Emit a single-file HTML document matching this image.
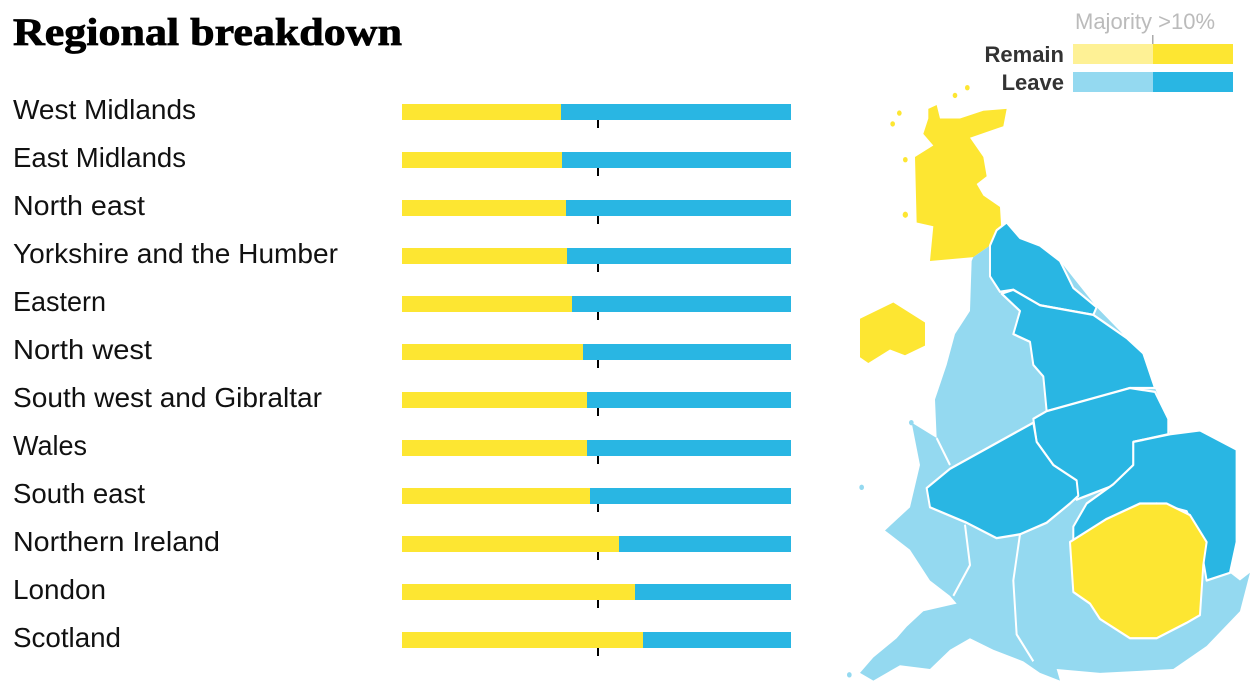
<!DOCTYPE html>
<html><head><meta charset="utf-8"><style>
html,body{margin:0;padding:0;background:#fff;}
svg{display:block;}
text{font-family:"Liberation Sans",sans-serif;}
</style></head><body>
<svg width="1260" height="683" xmlns="http://www.w3.org/2000/svg">
<text x="13" y="45" font-weight="bold" font-size="39" textLength="389" lengthAdjust="spacingAndGlyphs" fill="#000" stroke="#000" stroke-width="0.8" style="font-family:'Liberation Serif',serif">Regional breakdown</text>
<g font-size="28" fill="#111" lengthAdjust="spacingAndGlyphs">
<text x="13" y="119" textLength="183" lengthAdjust="spacingAndGlyphs">West Midlands</text>
<text x="13" y="167" textLength="173" lengthAdjust="spacingAndGlyphs">East Midlands</text>
<text x="13" y="215" textLength="132" lengthAdjust="spacingAndGlyphs">North east</text>
<text x="13" y="263" textLength="325" lengthAdjust="spacingAndGlyphs">Yorkshire and the Humber</text>
<text x="13" y="311" textLength="93" lengthAdjust="spacingAndGlyphs">Eastern</text>
<text x="13" y="359" textLength="139" lengthAdjust="spacingAndGlyphs">North west</text>
<text x="13" y="407" textLength="309" lengthAdjust="spacingAndGlyphs">South west and Gibraltar</text>
<text x="13" y="455" textLength="74" lengthAdjust="spacingAndGlyphs">Wales</text>
<text x="13" y="503" textLength="132" lengthAdjust="spacingAndGlyphs">South east</text>
<text x="13" y="551" textLength="207" lengthAdjust="spacingAndGlyphs">Northern Ireland</text>
<text x="13" y="599" textLength="93" lengthAdjust="spacingAndGlyphs">London</text>
<text x="13" y="647" textLength="108" lengthAdjust="spacingAndGlyphs">Scotland</text>
</g>
<g>
<rect x="402" y="104" width="389" height="16" fill="#29b6e3"/><rect x="402" y="104" width="159" height="16" fill="#fde632"/>
<rect x="402" y="152" width="389" height="16" fill="#29b6e3"/><rect x="402" y="152" width="160" height="16" fill="#fde632"/>
<rect x="402" y="200" width="389" height="16" fill="#29b6e3"/><rect x="402" y="200" width="164" height="16" fill="#fde632"/>
<rect x="402" y="248" width="389" height="16" fill="#29b6e3"/><rect x="402" y="248" width="165" height="16" fill="#fde632"/>
<rect x="402" y="296" width="389" height="16" fill="#29b6e3"/><rect x="402" y="296" width="170" height="16" fill="#fde632"/>
<rect x="402" y="344" width="389" height="16" fill="#29b6e3"/><rect x="402" y="344" width="181" height="16" fill="#fde632"/>
<rect x="402" y="392" width="389" height="16" fill="#29b6e3"/><rect x="402" y="392" width="185" height="16" fill="#fde632"/>
<rect x="402" y="440" width="389" height="16" fill="#29b6e3"/><rect x="402" y="440" width="185" height="16" fill="#fde632"/>
<rect x="402" y="488" width="389" height="16" fill="#29b6e3"/><rect x="402" y="488" width="188" height="16" fill="#fde632"/>
<rect x="402" y="536" width="389" height="16" fill="#29b6e3"/><rect x="402" y="536" width="217" height="16" fill="#fde632"/>
<rect x="402" y="584" width="389" height="16" fill="#29b6e3"/><rect x="402" y="584" width="233" height="16" fill="#fde632"/>
<rect x="402" y="632" width="389" height="16" fill="#29b6e3"/><rect x="402" y="632" width="241" height="16" fill="#fde632"/>
</g>
<g fill="#000">
<rect x="597" y="120" width="2" height="8"/><rect x="597" y="168" width="2" height="8"/><rect x="597" y="216" width="2" height="8"/><rect x="597" y="264" width="2" height="8"/><rect x="597" y="312" width="2" height="8"/><rect x="597" y="360" width="2" height="8"/><rect x="597" y="408" width="2" height="8"/><rect x="597" y="456" width="2" height="8"/><rect x="597" y="504" width="2" height="8"/><rect x="597" y="552" width="2" height="8"/><rect x="597" y="600" width="2" height="8"/><rect x="597" y="648" width="2" height="8"/>
</g>
<text x="1075" y="29" font-size="22" fill="#bbb">Majority &gt;10%</text>
<rect x="1152" y="35" width="1.5" height="9" fill="#aaa"/>
<rect x="1073" y="44" width="80" height="20" fill="#fef195"/><rect x="1153" y="44" width="80" height="20" fill="#fde632"/>
<rect x="1073" y="72" width="80" height="20" fill="#94d9f0"/><rect x="1153" y="72" width="80" height="20" fill="#29b6e3"/>
<text x="1064" y="62" font-size="22" font-weight="bold" fill="#333" text-anchor="end">Remain</text>
<text x="1064" y="90" font-size="22" font-weight="bold" fill="#333" text-anchor="end">Leave</text>
<g transform="translate(840,80) scale(0.3333,0.385)" stroke-linejoin="round">
<circle cx="345" cy="40" r="7" fill="#fde632"/><circle cx="382" cy="20" r="7" fill="#fde632"/><circle cx="178" cy="86" r="7" fill="#fde632"/><circle cx="158" cy="114" r="7" fill="#fde632"/><circle cx="196" cy="207" r="7" fill="#fde632"/><circle cx="196" cy="350" r="8" fill="#fde632"/><circle cx="65" cy="1058" r="7" fill="#94d9f0"/><circle cx="214" cy="890" r="7" fill="#94d9f0"/><circle cx="28" cy="1545" r="7" fill="#94d9f0"/>
<polygon fill="#fde632" points="265,75 290,65 300,100 360,100 430,80 500,75 490,120 390,150 430,200 440,250 410,270 430,300 480,330 485,400 450,430 400,460 270,470 280,380 230,370 225,200 280,170 250,140 265,100"/>
<polygon fill="#fde632" points="60,620 160,578 255,630 255,690 195,715 150,700 85,735 60,720"/>
<polygon fill="#94d9f0" points="400,460 395,470 390,600 345,660 320,740 285,830 290,930 215,890 240,1000 210,1110 135,1170 210,1220 270,1300 330,1340 350,1360 250,1380 200,1420 170,1450 100,1500 60,1540 100,1560 180,1520 270,1530 330,1480 390,1450 460,1480 550,1510 600,1540 660,1560 650,1530 780,1540 1000,1530 1100,1470 1200,1380 1230,1280 1200,1300 1170,1280 1190,1200 1190,960 1080,910 990,920 980,880 945,800 910,710 860,670 770,590 660,470 600,430 540,410 500,370 470,390 450,430"/>
<g fill="none" stroke="#fff" stroke-width="6">
<polyline points="375,1155 390,1260 340,1340"/>
<polyline points="540,1180 520,1300 530,1440 580,1510"/>
<polyline points="330,1000 290,930"/>
</g>
<g stroke="#fff" stroke-width="6">
<polygon fill="#29b6e3" points="470,390 500,370 540,410 600,430 660,470 700,540 770,590 760,610 600,585 520,545 480,550 450,510 450,430"/>
<polygon fill="#29b6e3" points="485,555 520,545 600,585 760,610 860,670 910,710 945,800 870,800 720,840 620,860 610,770 580,740 570,680 520,660 540,600"/>
<polygon fill="#29b6e3" points="620,860 870,800 945,810 985,880 985,920 880,940 880,1000 830,1050 710,1090 700,1050 640,1000 590,940 580,880"/>
<polygon fill="#29b6e3" points="260,1060 330,1010 580,890 590,940 640,1000 710,1040 715,1080 690,1100 620,1150 540,1180 470,1190 380,1150 270,1110"/>
<polygon fill="#29b6e3" points="880,940 990,920 1080,910 1190,960 1190,1200 1170,1280 1100,1300 1080,1200 1040,1120 950,1100 800,1150 700,1200 700,1160 740,1100 820,1050 880,1000"/>
<polygon fill="#fde632" points="690,1200 800,1140 900,1100 980,1100 1050,1130 1100,1200 1090,1260 1080,1390 1040,1410 950,1450 870,1450 780,1400 750,1360 700,1330"/>
</g>
</g>
</svg>
</body></html>
